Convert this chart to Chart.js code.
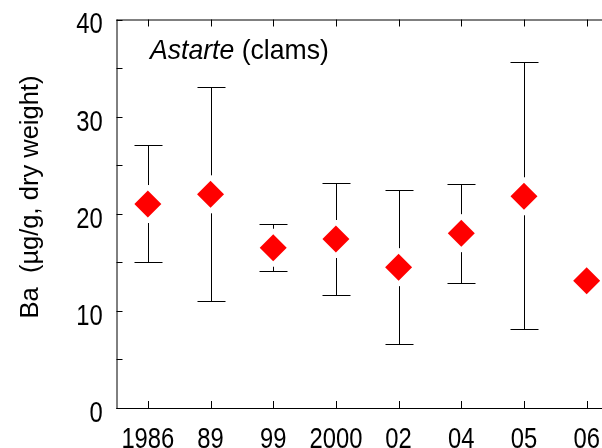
<!DOCTYPE html>
<html>
<head>
<meta charset="utf-8">
<script src="https://cdn.jsdelivr.net/npm/chart.js@4.4.1/dist/chart.umd.min.js"></script>
<style>
  html, body { margin: 0; padding: 0; background: #fff; overflow: hidden; }
  #wrap { width: 640px; height: 448px; position: relative; }
</style>
</head>
<body>
<div id="wrap"><canvas id="c" width="640" height="448"></canvas></div>
<script>
const categories = ['1986', '89', '99', '2000', '02', '04', '05', '06'];
const meanBa = [21.0, 22.0, 16.5, 17.4, 14.5, 18.0, 21.8, 13.1];
const upperBa = [27.1, 33.0, 18.9, 23.2, 22.4, 23.1, 35.6, null];
const lowerBa = [15.0, 11.0, 14.1, 11.6, 6.6, 12.9, 8.1, null];
const yTicks = [0, 10, 20, 30, 40];
const yTitle = 'Ba  (\u00b5g/g, dry weight)';
const noteItalic = 'Astarte';
const noteNormal = ' (clams)';

const FONT = '"Liberation Sans", Arial, sans-serif';
const CONDENSE = 0.82;

function condensedText(ctx, text, x, y, align) {
  ctx.save();
  ctx.translate(x, y);
  ctx.scale(CONDENSE, 1);
  ctx.textAlign = align;
  ctx.textBaseline = 'alphabetic';
  ctx.fillText(text, 0, 0);
  ctx.restore();
}

const framePlugin = {
  id: 'frame',
  beforeDatasetsDraw(chart) {
    const { ctx, chartArea: a, scales } = chart;
    const x = scales.x, y = scales.y;
    ctx.save();
    ctx.strokeStyle = '#000';
    ctx.lineWidth = 1;
    ctx.beginPath();
    ctx.moveTo(a.left + 0.5, a.top); ctx.lineTo(a.left + 0.5, a.bottom + 1);
    ctx.moveTo(a.left, a.bottom + 0.5); ctx.lineTo(a.right, a.bottom + 0.5);
    ctx.moveTo(a.left, a.top + 0.5); ctx.lineTo(a.right, a.top + 0.5);
    ctx.moveTo(a.right - 0.5, a.top); ctx.lineTo(a.right - 0.5, a.bottom);
    ctx.stroke();
    ctx.beginPath();
    categories.forEach((c, i) => {
      const px = Math.round(x.getPixelForValue(i)) + 0.5;
      ctx.moveTo(px, a.bottom); ctx.lineTo(px, a.bottom - 7);
      ctx.moveTo(px, a.top); ctx.lineTo(px, a.top + 7);
    });
    for (let v = 0; v <= 40; v += 5) {
      const py = Math.round(y.getPixelForValue(v)) + 0.5;
      ctx.moveTo(a.left, py); ctx.lineTo(a.left + 6, py);
    }
    ctx.stroke();
    const gap = 19, cap = 14;
    ctx.beginPath();
    meanBa.forEach((m, i) => {
      if (upperBa[i] == null) return;
      const px = Math.round(x.getPixelForValue(i)) + 0.5;
      const pm = y.getPixelForValue(m);
      const pu = Math.round(y.getPixelForValue(upperBa[i])) + 0.5;
      const pl = Math.round(y.getPixelForValue(lowerBa[i])) + 0.5;
      ctx.moveTo(px, pu); ctx.lineTo(px, pm - gap);
      ctx.moveTo(px, pm + gap); ctx.lineTo(px, pl);
      ctx.moveTo(px - cap, pu); ctx.lineTo(px + cap, pu);
      ctx.moveTo(px - cap, pl); ctx.lineTo(px + cap, pl);
    });
    ctx.stroke();
    ctx.fillStyle = '#000';
    // tick labels (condensed sans, like the original)
    ctx.font = '29px ' + FONT;
    categories.forEach((c, i) => {
      condensedText(ctx, c, x.getPixelForValue(i), 447.5, 'center');
    });
    yTicks.forEach(v => {
      condensedText(ctx, String(v), 102.7, y.getPixelForValue(v) + 13.9, 'right');
    });
    // y-axis title
    ctx.save();
    ctx.translate(31, 197);
    ctx.rotate(-Math.PI / 2);
    ctx.font = '25.5px ' + FONT;
    ctx.textAlign = 'center';
    ctx.textBaseline = 'middle';
    ctx.fillText(yTitle, 0, 0);
    ctx.restore();
    // annotation
    ctx.save();
    ctx.translate(150, 58.5);
    ctx.scale(0.95, 1);
    ctx.textBaseline = 'alphabetic';
    ctx.textAlign = 'left';
    ctx.font = 'italic 28px ' + FONT;
    const w1 = ctx.measureText(noteItalic).width;
    ctx.fillText(noteItalic, 0, 0);
    ctx.font = '28px ' + FONT;
    ctx.fillText(noteNormal, w1, 0);
    ctx.restore();
    ctx.restore();
  }
};

new Chart(document.getElementById('c'), {
  type: 'line',
  data: {
    labels: categories,
    datasets: [{
      data: meanBa,
      showLine: false,
      pointStyle: 'rectRot',
      pointRadius: 13.5,
      pointHoverRadius: 13.5,
      pointBackgroundColor: '#ff0000',
      pointBorderColor: '#ff0000',
      pointBorderWidth: 0
    }]
  },
  options: {
    responsive: false,
    animation: false,
    events: [],
    layout: { padding: { top: 19.5, right: 22, left: 0, bottom: 0 } },
    plugins: { legend: { display: false }, tooltip: { enabled: false } },
    scales: {
      x: {
        type: 'category',
        offset: true,
        grid: { display: false, drawTicks: false },
        border: { display: false },
        ticks: { display: false },
        afterFit(s) { s.height = 40; }
      },
      y: {
        min: 0, max: 40,
        afterBuildTicks(s) { s.ticks = yTicks.map(v => ({ value: v })); },
        grid: { display: false, drawTicks: false },
        border: { display: false },
        ticks: { display: false },
        afterFit(s) { s.width = 116.5; }
      }
    }
  },
  plugins: [framePlugin]
});
</script>
</body>
</html>
